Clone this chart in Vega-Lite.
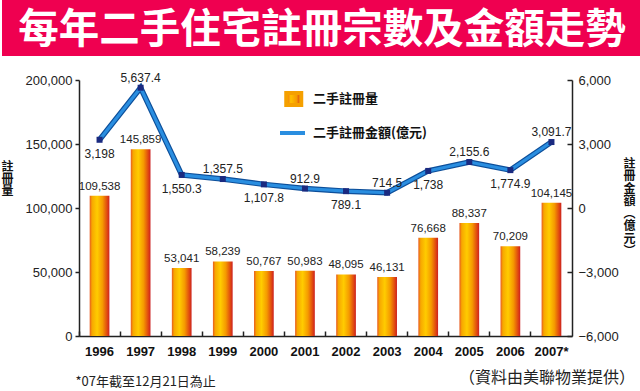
{
  "$schema": "https://vega.github.io/schema/vega-lite/v6.json",
  "background": "white",
  "padding": 0,
  "spacing": 15,
  "center": true,
  "config": {"view": {"stroke": null}, "font": "Liberation Sans"},
  "datasets": {
    "reg": [
      {"year": "1996", "count": 109538, "amount": 3198},
      {"year": "1997", "count": 145859, "amount": 5637.4},
      {"year": "1998", "count": 53041, "amount": 1550.3},
      {"year": "1999", "count": 58239, "amount": 1357.5},
      {"year": "2000", "count": 50767, "amount": 1107.8},
      {"year": "2001", "count": 50983, "amount": 912.9},
      {"year": "2002", "count": 48095, "amount": 789.1},
      {"year": "2003", "count": 46131, "amount": 714.5},
      {"year": "2004", "count": 76668, "amount": 1738},
      {"year": "2005", "count": 88337, "amount": 2155.6},
      {"year": "2006", "count": 70209, "amount": 1774.9},
      {"year": "2007*", "count": 104145, "amount": 3091.7}
    ]
  },
  "vconcat": [
    {
      "width": 710,
      "height": 56,
      "view": {"fill": "#ef0050", "stroke": null},
      "data": {"values": [{"t": "每年二手住宅註冊宗數及金額走勢"}]},
      "mark": {"type": "text", "font": "Noto Sans CJK TC", "fontWeight": "bold", "fontSize": 40.5, "color": "white", "baseline": "middle", "dy": 3, "dx": -35},
      "encoding": {"text": {"field": "t"}}
    },
    {
      "width": 493,
      "height": 256,
      "data": {"name": "reg"},
      "title": {"text": "（資料由美聯物業提供）", "orient": "bottom", "anchor": "end", "font": "Noto Sans CJK TC", "fontSize": 16, "fontWeight": "normal", "color": "#222", "dy": -22},
      "encoding": {
        "x": {
          "field": "year", "type": "nominal", "sort": null,
          "scale": {"paddingInner": 0, "paddingOuter": 0},
          "axis": {
            "title": "*07年截至12月21日為止", "titleFont": "Noto Sans CJK TC", "titleFontSize": 13, "titleFontWeight": "normal", "titleColor": "#222",
            "titleAnchor": "start", "titleAlign": "left", "titleX": -4, "titleY": 45, "titleBaseline": "middle",
            "labelAngle": 0, "labelFontWeight": "bold", "labelFontSize": 13, "labelColor": "#111", "labelPadding": 14,
            "bandPosition": 0, "tickSize": -5, "tickColor": "#222", "domainColor": "#222", "domainWidth": 1.5, "tickWidth": 1.5
          }
        }
      },
      "layer": [
        {
          "encoding": {
            "y": {
              "field": "count", "type": "quantitative", "scale": {"domain": [0, 200000]},
              "axis": {
                "values": [0, 50000, 100000, 150000, 200000], "format": ",.0f",
                "title": ["註", "冊", "量"], "titleAngle": 0, "titleX": -72, "titleY": 86, "titleAlign": "center", "titleBaseline": "middle",
                "titleFont": "Noto Sans CJK TC", "titleFontSize": 12, "titleFontWeight": "bold", "titleLineHeight": 12, "titleColor": "#111",
                "labelFontSize": 13, "labelColor": "#222", "labelPadding": 3, "tickSize": 4, "grid": false,
                "domainColor": "#222", "domainWidth": 1.5, "tickColor": "#222", "tickWidth": 1.5
              }
            }
          },
          "layer": [
            {
              "mark": {
                "type": "bar", "width": {"band": 0.48},
                "color": {"gradient": "linear", "x1": 0, "x2": 1, "y1": 0, "y2": 0,
                  "stops": [
                    {"offset": 0, "color": "#e85a20"},
                    {"offset": 0.12, "color": "#f7a800"},
                    {"offset": 0.38, "color": "#ffcc00"},
                    {"offset": 0.65, "color": "#f59a00"},
                    {"offset": 0.88, "color": "#e04a10"},
                    {"offset": 1, "color": "#cc2020"}
                  ]}
              }
            },
            {
              "mark": {"type": "text", "dy": -9, "fontSize": 11.5, "font": "Liberation Sans", "color": "#222", "baseline": "middle"},
              "encoding": {"text": {"field": "count", "type": "quantitative", "format": ","}}
            }
          ]
        },
        {
          "encoding": {
            "y": {
              "field": "amount", "type": "quantitative", "scale": {"domain": [-6000, 6000]},
              "axis": {
                "orient": "right", "values": [-6000, -3000, 0, 3000, 6000], "format": ",.0f",
                "title": ["註", "冊", "金", "額", "︵", "億", "元", "︶"], "titleAngle": 0, "titleX": 57, "titleY": 83, "titleAlign": "center", "titleBaseline": "middle",
                "titleFont": "Noto Sans CJK TC", "titleFontSize": 12, "titleFontWeight": "bold", "titleLineHeight": 12.5, "titleColor": "#111",
                "labelFontSize": 13, "labelColor": "#222", "labelPadding": 11, "tickSize": -5, "grid": false,
                "domainColor": "#222", "domainWidth": 1.5, "tickColor": "#222", "tickWidth": 1.5
              }
            }
          },
          "layer": [
            {"mark": {"type": "line", "stroke": "#0d4f9a", "strokeWidth": 5.5}},
            {
              "mark": {"type": "line", "strokeWidth": 3.2},
              "encoding": {
                "color": {
                  "datum": "二手註冊金額(億元)",
                  "scale": {"domain": ["二手註冊量", "二手註冊金額(億元)"], "range": ["#f5a000", "#2a8ee0"]},
                  "legend": {
                    "title": null, "orient": "none", "legendX": 276, "legendY": 84.5, "padding": 0, "direction": "vertical",
                    "symbolSize": 625, "rowPadding": 5, "labelOffset": 6,
                    "labelFont": "Noto Sans CJK TC", "labelFontSize": 13, "labelFontWeight": "bold", "labelColor": "#111",
                    "encode": {
                      "symbols": {
                        "update": {
                          "shape": [{"test": "datum.value === '二手註冊量'", "value": "M-0.5,-0.48H0.7V0.48H-0.5Z"}, {"value": "M-1,0H1"}],
                          "fill": [{"test": "datum.value === '二手註冊量'", "value": {"gradient": "linear", "x1": 0, "x2": 1, "y1": 0, "y2": 0,
                            "stops": [{"offset": 0, "color": "#e85a20"}, {"offset": 0.3, "color": "#ffc000"}, {"offset": 0.7, "color": "#f59a00"}, {"offset": 1, "color": "#cc2020"}]}},
                            {"value": "transparent"}],
                          "stroke": [{"test": "datum.value === '二手註冊量'", "value": "transparent"}, {"value": "#2a8ee0"}],
                          "strokeWidth": {"value": 4},
                          "size": {"value": 625},
                          "opacity": {"value": 1}
                        }
                      }
                    }
                  }
                }
              }
            },
            {"mark": {"type": "point", "shape": "square", "filled": true, "color": "#1a2a80", "size": 36, "opacity": 1}},
            {
              "transform": [{"filter": {"field": "year", "oneOf": ["1997", "1999", "2001", "2003", "2005", "2007*"]}}],
              "mark": {"type": "text", "dy": -10, "fontSize": 12, "font": "Liberation Sans", "color": "#222", "baseline": "middle"},
              "encoding": {"text": {"field": "amount", "type": "quantitative", "format": ",.1~f"}}
            },
            {
              "transform": [{"filter": {"field": "year", "oneOf": ["1996", "1998", "2000", "2002", "2004", "2006"]}}],
              "mark": {"type": "text", "dy": 14, "fontSize": 12, "font": "Liberation Sans", "color": "#222", "baseline": "middle"},
              "encoding": {"text": {"field": "amount", "type": "quantitative", "format": ",.1~f"}}
            }
          ]
        }
      ],
      "resolve": {"scale": {"y": "independent"}}
    }
  ]
}
